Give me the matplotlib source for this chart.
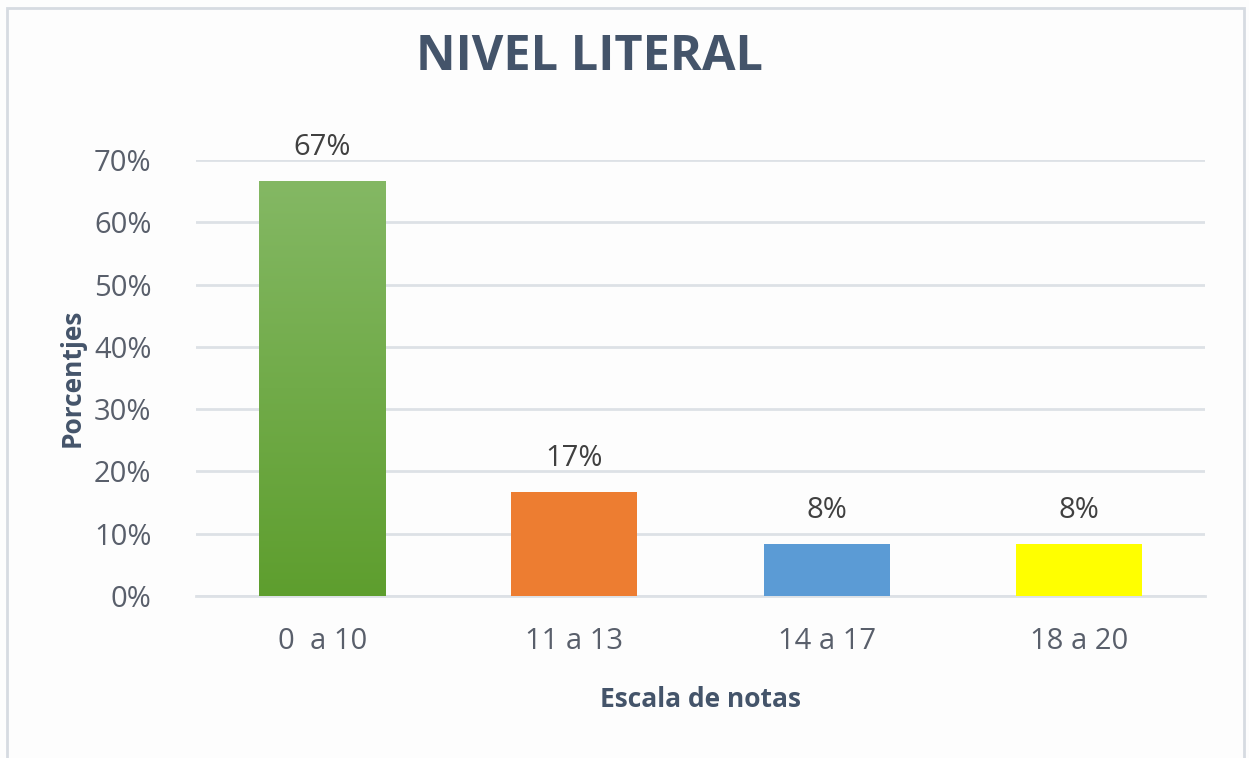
import numpy as np
import matplotlib.pyplot as plt
from matplotlib.patches import Rectangle
from matplotlib.colors import LinearSegmentedColormap

categories = ['0  a 10', '11 a 13', '14 a 17', '18 a 20']
values = [0.6667, 0.1667, 0.0833, 0.0833]
labels = ['67%', '17%', '8%', '8%']
colors = ['#6aab3c', '#ed7d31', '#5b9bd5', '#ffff00']
yticks = [0, 0.1, 0.2, 0.3, 0.4, 0.5, 0.6, 0.7]

plt.rcParams['font.family'] = ['Open Sans', 'DejaVu Sans']

fig = plt.figure(figsize=(12.49, 7.58), dpi=100)
fig.patch.set_facecolor('#fdfdfd')
# chart frame (bottom edge falls outside the picture)
fig.patches.append(Rectangle((7 / 1249, -0.05), 1237 / 1249, 1.04, transform=fig.transFigure,
                             fill=False, edgecolor='#d6dbe1', linewidth=2))

ax = fig.add_axes([196 / 1249, 1 - 596 / 758, 1009 / 1249, 436 / 758])
ax.set_facecolor('#fdfdfd')
x = np.arange(len(categories))
bars = ax.bar(x, values, width=0.5, color=colors, zorder=3)

# green gradient on first bar
green = LinearSegmentedColormap.from_list('g', ['#5e9e2e', '#84b864'])
b = bars[0]
grad = np.linspace(0, 1, 256).reshape(-1, 1)
im = ax.imshow(grad, cmap=green, origin='lower', aspect='auto', zorder=4,
               extent=[b.get_x(), b.get_x() + b.get_width(), 0, b.get_height()])
im.set_clip_path(b)

for xi, v, lab in zip(x, values, labels):
    ax.text(xi, v + 0.03, lab, ha='center', va='bottom', fontsize=21, color='#404040')

ax.set_xlim(-0.5, 3.5)
ax.set_ylim(0, 0.7)
ax.set_yticks(yticks)
ax.set_yticklabels([f'{int(round(t * 100))}%' for t in yticks])
ax.set_xticks(x)
ax.set_xticklabels(categories)
ax.tick_params(axis='both', length=0, labelsize=21, labelcolor='#595f6b')
ax.tick_params(axis='y', pad=32)
ax.tick_params(axis='x', pad=22)
ax.grid(axis='y', color='#dde1e6', linewidth=2, zorder=0)
for s in ['top', 'right', 'left']:
    ax.spines[s].set_visible(False)
ax.spines['bottom'].set_color('#dde1e6')
ax.spines['bottom'].set_linewidth(2)

ax.set_ylabel('Porcentjes', fontsize=19, fontweight='bold', color='#44546a', labelpad=6)
ax.set_xlabel('Escala de notas', fontsize=19, fontweight='bold', color='#44546a', labelpad=22)

fig.text(590 / 1249, 1 - 57 / 758, 'NIVEL LITERAL', ha='center', va='center',
         fontsize=35, fontweight='bold', color='#44546a')

fig.savefig('out.png', dpi=100, facecolor=fig.get_facecolor())
